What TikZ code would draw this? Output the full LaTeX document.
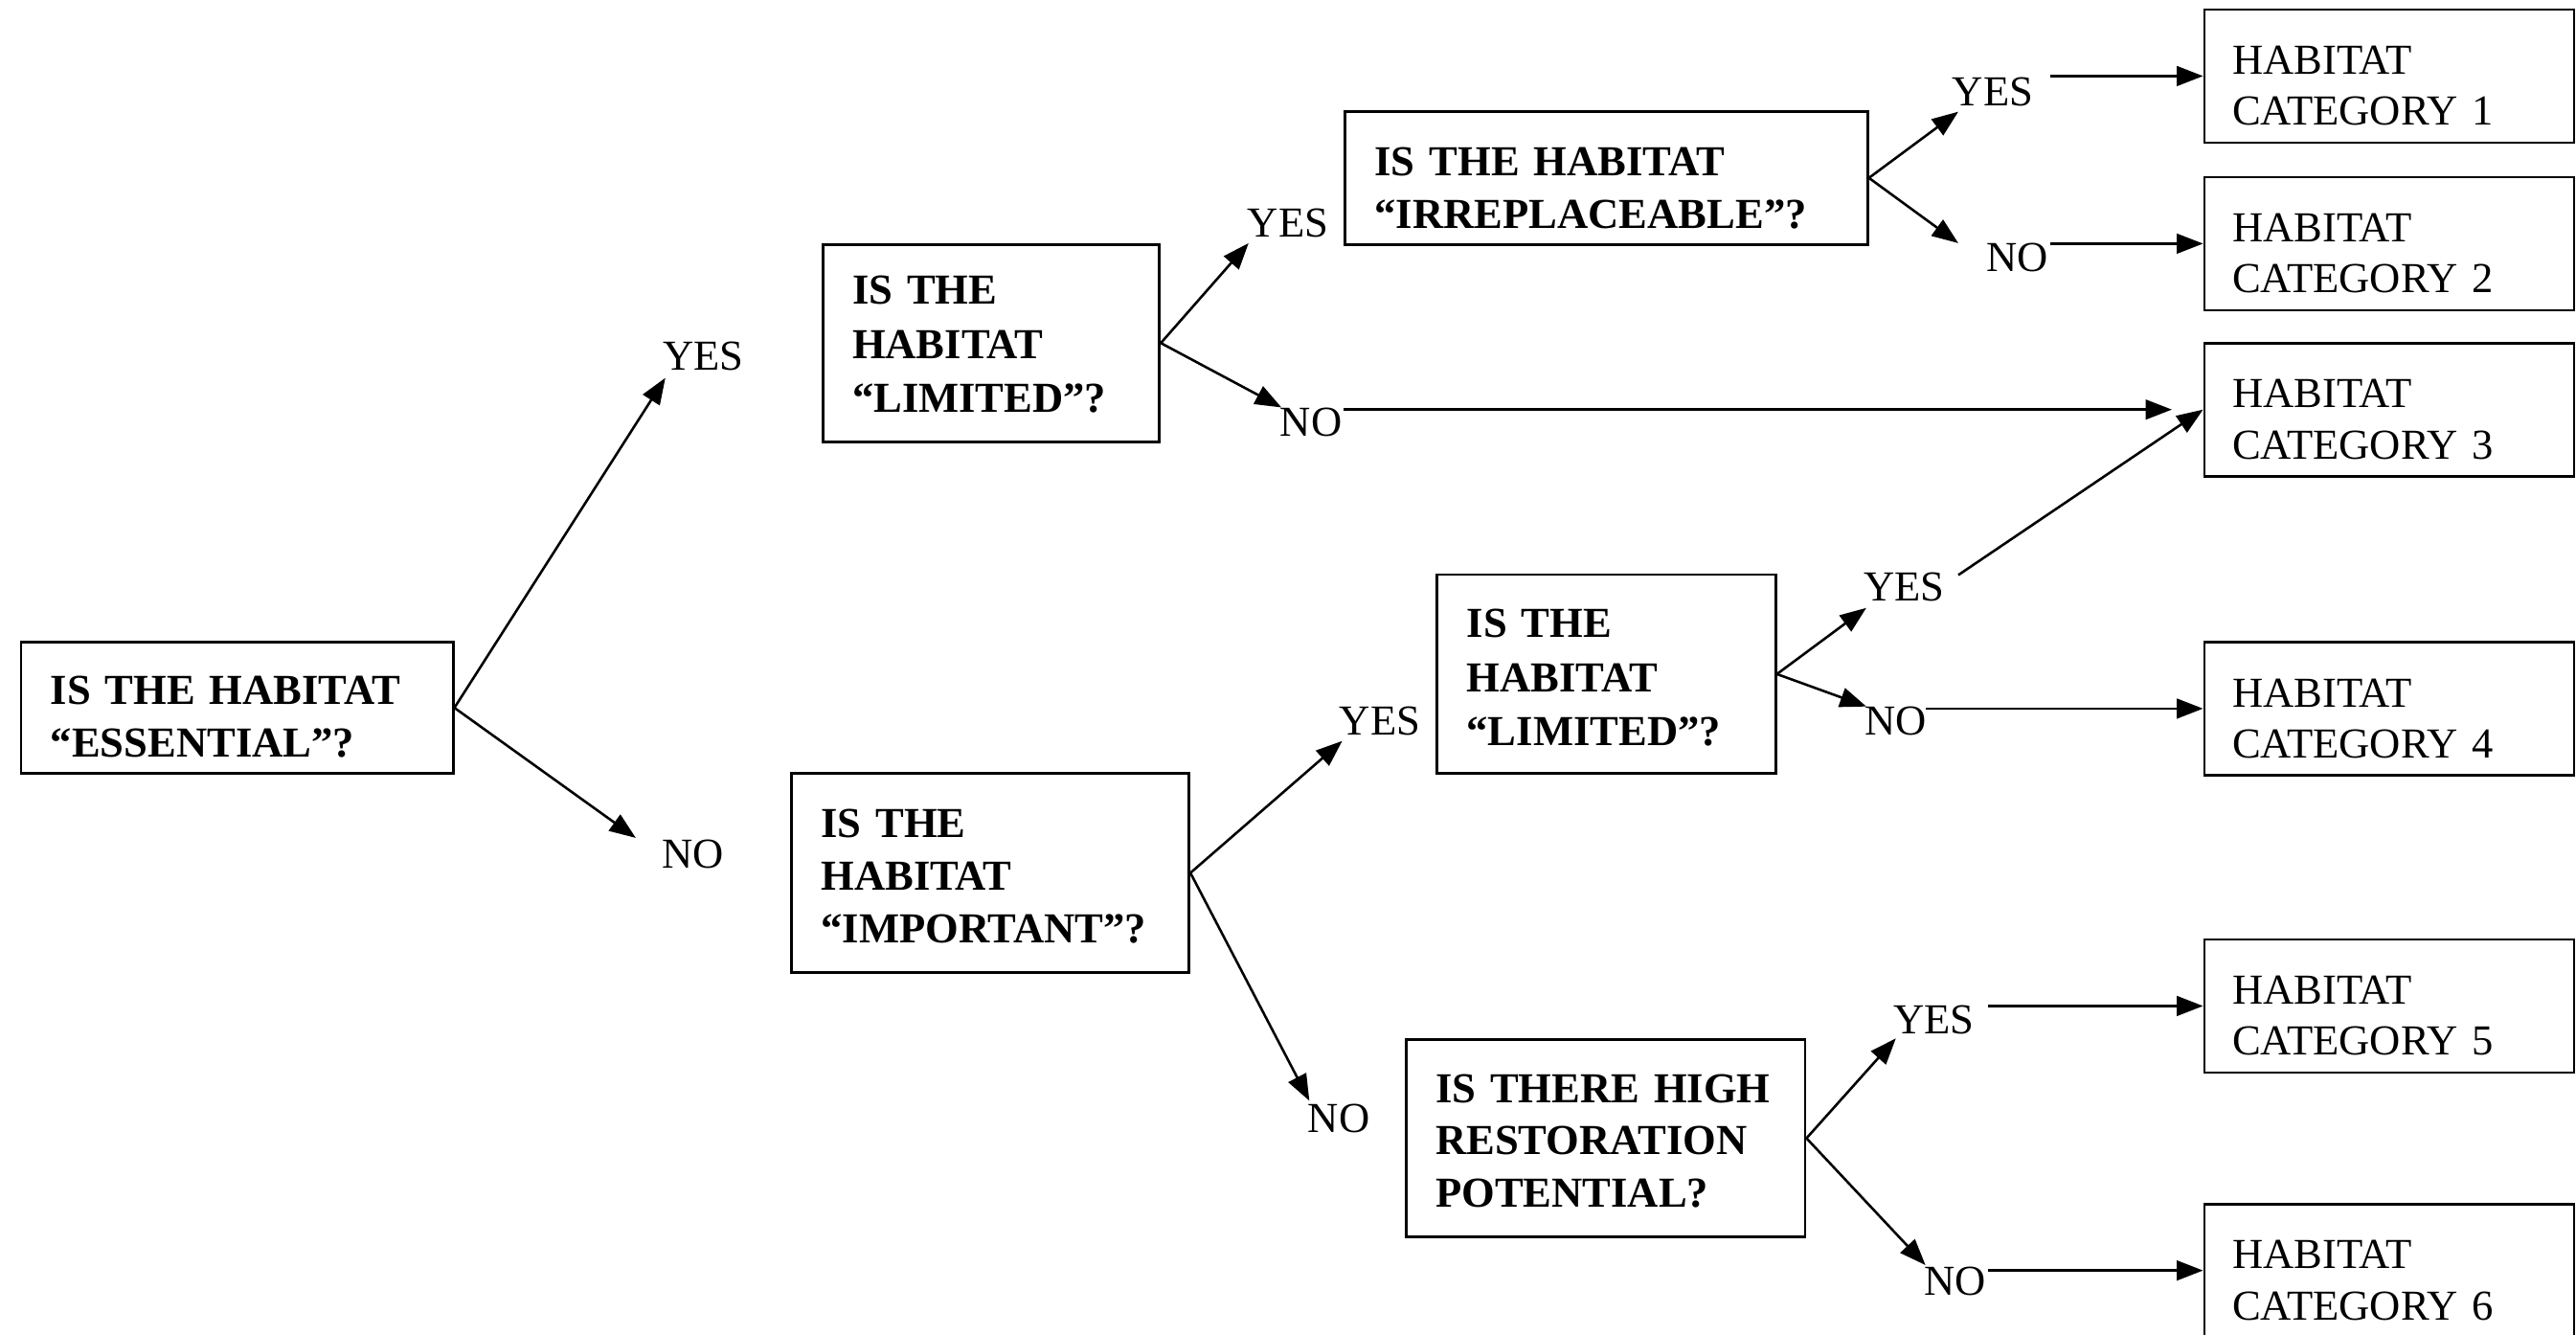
\documentclass[tikz,border=0pt]{standalone}
\usepackage{fontspec}
\setmainfont{Liberation Serif}
\usetikzlibrary{arrows.meta,calc}
\begin{document}
\begin{tikzpicture}[x=0.5pt,y=-0.5pt,
  textdown/.style={execute at begin node={\rule{0pt}{#1}}},
  qbox/.style={draw,line width=0.8pt,anchor=north west,inner xsep=9pt,inner ysep=0pt,align=left,font=\fontsize{13}{16}\selectfont\bfseries},
  cbox/.style={draw,line width=0.8pt,anchor=north west,inner xsep=8.5pt,inner ysep=0pt,align=left,font=\fontsize{13}{15.5}\selectfont,minimum width=112.5pt,text width=95.5pt,minimum height=40.5pt,textdown=14.6pt},
  lab/.style={inner sep=0pt,font=\fontsize{13}{16}\selectfont},
  arr/.style={line width=0.75pt,-{Triangle[length=8pt,width=6pt]}},
]
\useasboundingbox (0,0) rectangle (1568,812);

% question boxes
\node[qbox,minimum width=131.5pt,text width=113.5pt,minimum height=40pt,textdown=14.1pt] (E) at (12,390) {IS THE HABITAT\\“ESSENTIAL”?};
\node[qbox,minimum width=102.5pt,text width=84.5pt,minimum height=60pt,textdown=9.6pt,font=\fontsize{13}{16.5}\selectfont\bfseries] (L1) at (500,148) {IS THE\\HABITAT\\“LIMITED”?};
\node[qbox,minimum width=159pt,text width=141pt,minimum height=40.5pt,textdown=15.1pt] (I) at (818,67) {IS THE HABITAT\\“IRREPLACEABLE”?};
\node[qbox,minimum width=121pt,text width=103pt,minimum height=60.5pt,textdown=10.6pt] (IMP) at (481,470) {IS THE\\HABITAT\\“IMPORTANT”?};
\node[qbox,minimum width=103pt,text width=85pt,minimum height=60.5pt,textdown=10.9pt,font=\fontsize{13}{16.5}\selectfont\bfseries] (L2) at (874,349) {IS THE\\HABITAT\\“LIMITED”?};
\node[qbox,minimum width=121.5pt,text width=103.5pt,minimum height=60pt,textdown=10.3pt] (R) at (855,632) {IS THERE HIGH\\RESTORATION\\POTENTIAL?};

% category boxes
\node[cbox] (c1) at (1341,5) {HABITAT\\CATEGORY 1};
\node[cbox] (c2) at (1341,107) {HABITAT\\CATEGORY 2};
\node[cbox] (c3) at (1341,208) {HABITAT\\CATEGORY 3};
\node[cbox] (c4) at (1341,390) {HABITAT\\CATEGORY 4};
\node[cbox] (c5) at (1341,571) {HABITAT\\CATEGORY 5};
\node[cbox] (c6) at (1341,732) {HABITAT\\CATEGORY 6};

% labels
\node[lab] (yes1) at (428,217) {YES};
\node[lab] (no1) at (422,520) {NO};
\node[lab] (yes2) at (784,136) {YES};
\node[lab] (no2) at (798,257) {NO};
\node[lab] (yes4) at (1213,56) {YES};
\node[lab] (no4) at (1228,157) {NO};
\node[lab] (yes3) at (840,439) {YES};
\node[lab] (no3) at (815,681) {NO};
\node[lab] (yes5) at (1159,357) {YES};
\node[lab] (no5) at (1154,439) {NO};
\node[lab] (yes6) at (1177,621) {YES};
\node[lab] (no6) at (1190,780) {NO};

% arrow tips and line starts
\coordinate (t1) at (405,230);
\coordinate (t2) at (387,510);
\coordinate (t3) at (760,148);
\coordinate (t4) at (780,248);
\coordinate (t5) at (1192,68);
\coordinate (t6) at (1192,148);
\coordinate (t7) at (817,451);
\coordinate (t8) at (797,670);
\coordinate (t9) at (1136,370);
\coordinate (t10) at (1136,430);
\coordinate (t11) at (1154,632);
\coordinate (t12) at (1172,770);
\coordinate (s1) at (818,0 |- c3.west);
\coordinate (e1) at (1322,0 |- c3.west);
\coordinate (s2) at (1248,0 |- c1.west);
\coordinate (s3) at (1248,0 |- c2.west);
\coordinate (s4) at (1192,350);
\coordinate (s5) at (1172,0 |- c4.west);
\coordinate (s6) at (1210,0 |- c5.west);
\coordinate (s7) at (1210,0 |- c6.west);

% connectors
\draw[arr] (E.east) -- (t1);
\draw[arr] (E.east) -- (t2);
\draw[arr] (L1.east) -- (t3);
\draw[arr] (L1.east) -- (t4);
\draw[arr] (s1) -- (e1);
\draw[arr] (I.east) -- (t5);
\draw[arr] (I.east) -- (t6);
\draw[arr] (s2) -- (c1.west);
\draw[arr] (s3) -- (c2.west);
\draw[arr] (IMP.east) -- (t7);
\draw[arr] (IMP.east) -- (t8);
\draw[arr] (L2.east) -- (t9);
\draw[arr] (L2.east) -- (t10);
\draw[arr] (s4) -- (c3.west);
\draw[arr] (s5) -- (c4.west);
\draw[arr] (R.east) -- (t11);
\draw[arr] (R.east) -- (t12);
\draw[arr] (s6) -- (c5.west);
\draw[arr] (s7) -- (c6.west);
\end{tikzpicture}
\end{document}
